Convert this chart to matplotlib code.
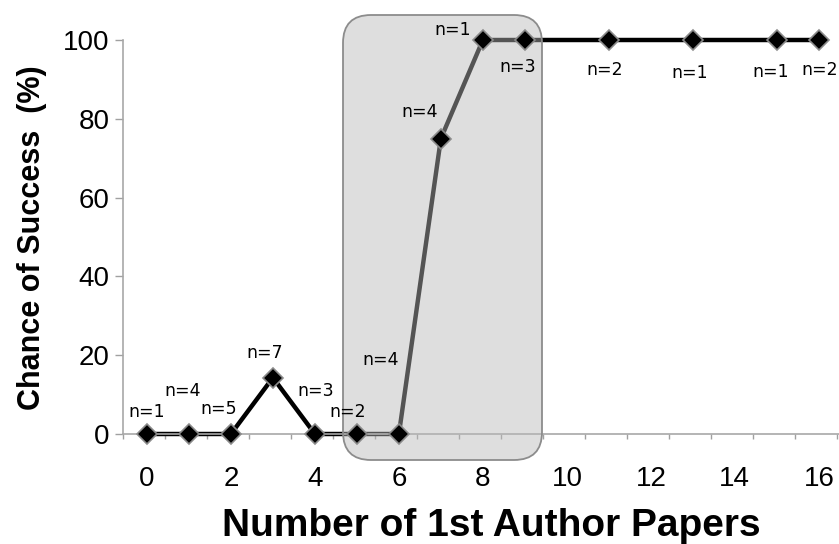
import matplotlib
matplotlib.use("Agg")
import matplotlib.pyplot as plt
import numpy as np
from matplotlib.patches import FancyBboxPatch

# ---- data ----
papers = [0, 1, 2, 3, 4, 5, 6, 7, 8, 9, 11, 13, 15, 16]
success = [0, 0, 0, 14.3, 0, 0, 0, 75, 100, 100, 100, 100, 100, 100]
n_counts = [1, 4, 5, 7, 3, 2, 4, 4, 1, 3, 2, 1, 1, 2]
x_ticks = [0, 2, 4, 6, 8, 10, 12, 14, 16]
y_ticks = [0, 20, 40, 60, 80, 100]

# ---- layout (label placement, in data units) ----
label_pos = [(0.0, 5.6), (0.86, 10.9), (1.71, 6.3), (2.81, 20.6), (4.02, 10.9),
             (4.78, 5.6), (5.56, 18.8), (6.49, 81.7), (7.28, 102.5), (8.82, 93.1),
             (10.91, 92.4), (12.93, 91.6), (14.86, 91.9), (16.02, 92.4)]

W, H = 839, 544
fig = plt.figure(figsize=(W / 100, H / 100), dpi=100)
ax = fig.add_axes([123 / W, 1 - 434 / H, 1 - 123 / W, (434 - 40) / H])

ax.plot(papers, success, color="black", lw=3.2, zorder=2, clip_on=False,
        solid_joinstyle="miter")
ax.plot(papers, success, ls="none", marker="D", ms=10, mfc="black",
        mec="#8a8a8a", mew=1.2, zorder=4, clip_on=False)

# highlighted region (rounded box), drawn over the line but under the markers
bx, by, bw, bh = 3.43, (H - 460) / 100, 5.42 - 3.43, (460 - 15) / 100
box = FancyBboxPatch((bx, by), bw, bh,
                     boxstyle="round,pad=0,rounding_size=0.28",
                     transform=fig.dpi_scale_trans, facecolor="#b9b9b9",
                     alpha=0.46, edgecolor="none", zorder=3, clip_on=False)
ax.add_patch(box)
box_edge = FancyBboxPatch((bx, by), bw, bh,
                          boxstyle="round,pad=0,rounding_size=0.28",
                          transform=fig.dpi_scale_trans, facecolor="none",
                          edgecolor="#8c8c8c", lw=1.3, zorder=3.1, clip_on=False)
ax.add_patch(box_edge)

for (lx, ly), n in zip(label_pos, n_counts):
    ax.text(lx, ly, f"n={n}", ha="center", va="center", fontsize=12.5,
            family="DejaVu Sans", color="black", zorder=5, clip_on=False)

ax.set_xlim(-0.57, 16.48)
ax.set_ylim(0, 100)
ax.set_xticks(x_ticks)
ax.set_xticklabels([str(t) for t in x_ticks], fontsize=20,
                   family="Liberation Sans")
ax.set_xticks(np.arange(-0.57, 16.5, 1.0), minor=True)
ax.set_yticks(y_ticks)
ax.set_yticklabels([str(t) for t in y_ticks], fontsize=20,
                   family="Liberation Sans")
ax.tick_params(axis="x", which="major", length=0, pad=23)
ax.tick_params(axis="x", which="minor", length=3.5, width=1, color="#a0a0a0",
               direction="out")
ax.tick_params(axis="y", which="major", length=6, width=1, color="#a0a0a0",
               direction="out", pad=3.5)
for lbl in ax.get_yticklabels():
    lbl.set_verticalalignment("center_baseline")

for s in ["top", "right"]:
    ax.spines[s].set_visible(False)
for s in ["left", "bottom"]:
    ax.spines[s].set_color("#a8a8a8")
    ax.spines[s].set_linewidth(1.2)

fig.text(491 / W, 1 - 536 / H, "Number of 1st Author Papers", ha="center",
         va="baseline", fontsize=28, fontweight="bold", family="Liberation Sans")
fig.text(32 / W, 1 - 238 / H, "Chance of Success  (%)", ha="center",
         va="center", rotation=90, fontsize=22, fontweight="bold",
         family="Liberation Sans")

fig.savefig("out.png", dpi=100)
